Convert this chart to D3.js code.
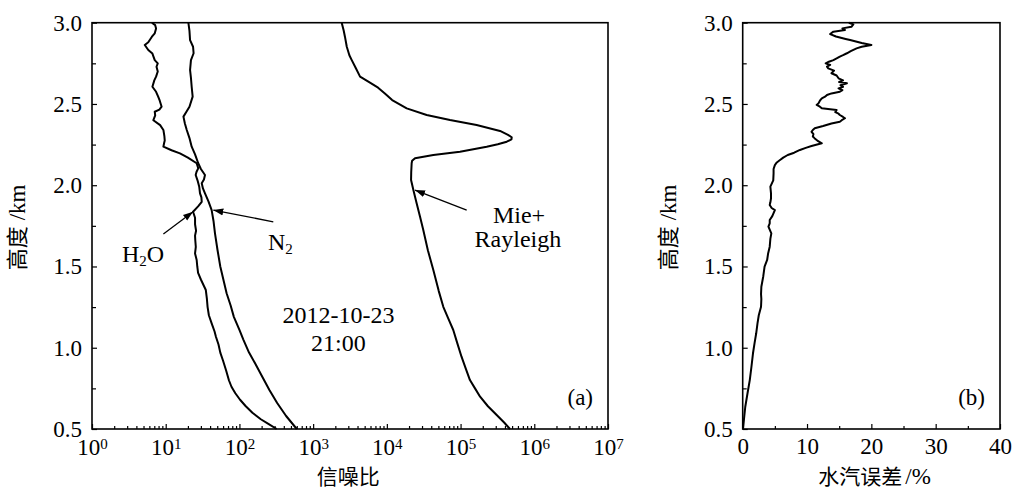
<!DOCTYPE html>
<html>
<head>
<meta charset="utf-8">
<script src="https://cdn.jsdelivr.net/npm/d3@7"></script>
<style>
  body { margin: 0; background: #fff; }
  svg { display: block; }
</style>
</head>
<body>
<div class="chart"></div>
<script>
const width = 1014;
const height = 490;

// panel (a): signal-to-noise ratio profiles (altitude km, SNR)
const h2oAlt = [3.00, 2.985, 2.965, 2.935, 2.914, 2.88, 2.863, 2.832, 2.81, 2.77, 2.75, 2.729, 2.70, 2.668, 2.645, 2.606, 2.575, 2.545, 2.52, 2.483, 2.465, 2.452, 2.43, 2.40, 2.37, 2.34, 2.30, 2.275, 2.258, 2.237, 2.215, 2.196, 2.17, 2.135, 2.104, 2.083, 2.063, 2.03, 1.99, 1.95, 1.925, 1.898, 1.87, 1.837, 1.80, 1.76, 1.72, 1.69, 1.66, 1.62, 1.58, 1.54, 1.50, 1.46, 1.42, 1.38, 1.355, 1.30, 1.25, 1.20, 1.15, 1.10, 1.068, 1.02, 0.97, 0.92, 0.86, 0.80, 0.76, 0.72, 0.68, 0.64, 0.60, 0.56, 0.53, 0.50];
const h2oSnr = [6.5, 7.2, 7.4, 7.1, 6.5, 5.8, 5.2, 5.8, 6.6, 7.1, 7.8, 7.5, 7.8, 7.4, 7.0, 6.6, 7.4, 7.9, 8.3, 8.8, 8.2, 7.1, 7.2, 6.8, 8.4, 9.3, 9.6, 9.7, 9.5, 9.3, 12.0, 15.6, 20.0, 26.3, 27.6, 26.2, 25.5, 27.0, 28.5, 29.2, 30.5, 30.8, 27.5, 23.5, 25.0, 25.0, 25.8, 25.0, 25.2, 25.6, 25.0, 26.3, 26.8, 27.5, 30.0, 33.0, 35.0, 36.2, 37.0, 38.5, 42.0, 46.0, 48.0, 52.0, 55.0, 60.0, 66.0, 72.0, 78.0, 88.0, 102, 122, 150, 195, 250, 320];

const n2Alt = [3.00, 2.95, 2.893, 2.852, 2.812, 2.77, 2.709, 2.66, 2.606, 2.545, 2.483, 2.45, 2.422, 2.38, 2.34, 2.29, 2.237, 2.19, 2.135, 2.10, 2.063, 2.035, 2.012, 1.98, 1.95, 1.90, 1.847, 1.78, 1.704, 1.60, 1.50, 1.40, 1.335, 1.26, 1.19, 1.11, 1.05, 0.97, 0.90, 0.82, 0.74, 0.66, 0.58, 0.50];
const n2Snr = [20.3, 21.0, 21.4, 23.5, 23.9, 22.0, 21.4, 22.0, 22.5, 23.2, 21.0, 19.0, 17.4, 18.2, 19.3, 21.0, 22.5, 25.0, 27.6, 30.0, 34.1, 33.0, 30.8, 32.0, 34.1, 38.0, 42.0, 44.5, 46.6, 50.5, 55.0, 62.0, 67.0, 76.0, 84.0, 100, 113, 135, 165, 205, 255, 325, 430, 600];

const mieAlt = [3.00, 2.95, 2.914, 2.852, 2.80, 2.77, 2.72, 2.668, 2.637, 2.60, 2.565, 2.524, 2.473, 2.432, 2.401, 2.37, 2.334, 2.31, 2.295, 2.282, 2.268, 2.252, 2.237, 2.206, 2.186, 2.166, 2.15, 2.135, 2.08, 2.032, 1.97, 1.90, 1.806, 1.724, 1.60, 1.478, 1.35, 1.252, 1.18, 1.109, 1.03, 0.945, 0.87, 0.801, 0.75, 0.699, 0.64, 0.586, 0.54, 0.50];
const mieSnr = [2440, 2600, 2700, 2860, 3100, 3340, 3800, 4330, 5610, 7600, 9400, 11800, 18600, 34700, 71900, 165000, 343000, 440000, 494000, 490000, 423000, 320000, 226000, 98300, 42700, 24100, 22000, 21700, 21400, 21300, 22900, 25000, 28200, 31200, 36000, 42700, 50500, 58300, 68000, 79600, 90000, 103000, 118000, 134000, 157000, 184000, 235000, 309000, 390000, 468000];

// panel (b): water vapour retrieval error (altitude km, %)
const errAlt = [3.00, 2.99, 2.975, 2.965, 2.955, 2.945, 2.93, 2.915, 2.90, 2.893, 2.875, 2.863, 2.852, 2.842, 2.825, 2.812, 2.80, 2.791, 2.78, 2.77, 2.76, 2.75, 2.74, 2.73, 2.719, 2.705, 2.689, 2.675, 2.658, 2.645, 2.635, 2.627, 2.615, 2.605, 2.596, 2.585, 2.575, 2.565, 2.555, 2.545, 2.535, 2.52, 2.505, 2.494, 2.483, 2.473, 2.467, 2.463, 2.45, 2.44, 2.432, 2.42, 2.412, 2.40, 2.391, 2.38, 2.364, 2.35, 2.34, 2.329, 2.315, 2.30, 2.288, 2.275, 2.258, 2.241, 2.23, 2.217, 2.20, 2.186, 2.17, 2.155, 2.14, 2.124, 2.10, 2.073, 2.03, 1.991, 1.95, 1.92, 1.895, 1.878, 1.86, 1.847, 1.81, 1.786, 1.765, 1.745, 1.704, 1.67, 1.622, 1.58, 1.54, 1.499, 1.44, 1.375, 1.33, 1.30, 1.252, 1.20, 1.15, 1.089, 1.03, 0.966, 0.88, 0.801, 0.72, 0.637, 0.56, 0.50];
const errPct = [16.5, 17.2, 16.9, 15.5, 15.9, 14.1, 13.6, 14.5, 16.0, 16.7, 18.5, 20.0, 18.5, 17.7, 16.8, 16.2, 15.6, 15.1, 14.6, 14.1, 13.4, 12.9, 13.6, 13.1, 13.3, 14.2, 13.8, 14.6, 14.9, 15.6, 15.0, 16.2, 15.2, 15.6, 14.9, 15.5, 15.1, 13.8, 13.1, 12.8, 12.3, 12.0, 11.8, 11.5, 12.0, 12.3, 13.6, 14.6, 14.4, 14.9, 15.1, 15.6, 15.9, 15.4, 15.1, 13.8, 12.5, 11.2, 10.9, 10.7, 11.0, 10.9, 11.2, 11.6, 12.3, 10.7, 9.8, 8.9, 8.0, 7.0, 6.3, 5.8, 5.3, 5.0, 4.8, 4.8, 4.75, 4.3, 4.4, 4.4, 4.3, 4.2, 4.5, 5.0, 4.6, 4.2, 4.2, 4.0, 4.45, 4.3, 4.2, 3.95, 3.8, 3.4, 3.2, 2.9, 2.85, 2.9, 2.85, 2.5, 2.3, 2.1, 1.85, 1.6, 1.35, 1.1, 0.75, 0.4, 0.2, 0.05];

const yTicks = [0.5, 1.0, 1.5, 2.0, 2.5, 3.0];
const yMinor = [0.75, 1.25, 1.75, 2.25, 2.75];
const xLogTicks = [1, 10, 100, 1000, 1e4, 1e5, 1e6, 1e7];
const xErrTicks = [0, 10, 20, 30, 40];
const xErrMinor = [5, 15, 25, 35];

const serif = "'Liberation Serif', 'DejaVu Serif', serif";
const cjk = "'Noto Sans CJK SC', 'Noto Sans', sans-serif";

const svg = d3
    .select(".chart")
    .append("svg")
    .attr("width", width)
    .attr("height", height);

svg.append("defs")
    .append("marker")
    .attr("id", "arrow")
    .attr("viewBox", "0 0 10 10")
    .attr("refX", 10)
    .attr("refY", 5)
    .attr("markerWidth", 10)
    .attr("markerHeight", 10)
    .attr("markerUnits", "userSpaceOnUse")
    .attr("orient", "auto")
    .append("path")
    .attr("d", "M0,1.5 L10,5 L0,8.5 Z")
    .attr("fill", "black");

const xA = d3.scaleLog().domain([1, 1e7]).range([92, 608]);
const yA = d3.scaleLinear().domain([0.5, 3]).range([429, 22.7]);
const xB = d3.scaleLinear().domain([0, 40]).range([742.7, 1000]);

function styleAxis(g) {
    g.select(".domain").remove();
    g.attr("font-family", serif).attr("font-size", 23);
    g.selectAll("line").attr("stroke", "black").attr("stroke-width", 1.2);
    g.selectAll("text").attr("fill", "black");
}

function drawPanel(x, label, xLog) {
    const x0 = x.range()[0], x1 = x.range()[1];

    // y axis, ticks pointing inward
    svg.append("g")
        .attr("transform", `translate(${x0},0)`)
        .call(d3.axisLeft(yA).tickValues(yTicks).tickSize(-5).tickPadding(10).tickFormat(d3.format(".1f")))
        .call(styleAxis);
    svg.append("g")
        .attr("transform", `translate(${x0},0)`)
        .call(d3.axisLeft(yA).tickValues(yMinor).tickSize(-4).tickFormat(""))
        .call(styleAxis);

    // x axis
    const bottom = yA.range()[0];
    if (xLog) {
        const minor = [];
        xLogTicks.slice(0, -1).forEach((d) => {
            for (let k = 2; k <= 9; k++) minor.push(d * k);
        });
        svg.append("g")
            .attr("transform", `translate(0,${bottom})`)
            .call(d3.axisBottom(x).tickValues(minor).tickSize(-3).tickFormat(""))
            .call(styleAxis);
        const gx = svg.append("g")
            .attr("transform", `translate(0,${bottom})`)
            .call(d3.axisBottom(x).tickValues(xLogTicks).tickSize(-5).tickPadding(10).tickFormat(""))
            .call(styleAxis);
        gx.selectAll(".tick text").each(function (d) {
            const t = d3.select(this).attr("dy", "0.71em");
            t.append("tspan").text("10");
            t.append("tspan")
                .attr("dy", "-0.45em")
                .attr("font-size", 15)
                .text(Math.round(Math.log10(d)));
        });
    } else {
        svg.append("g")
            .attr("transform", `translate(0,${bottom})`)
            .call(d3.axisBottom(x).tickValues(xErrMinor).tickSize(-3).tickFormat(""))
            .call(styleAxis);
        svg.append("g")
            .attr("transform", `translate(0,${bottom})`)
            .call(d3.axisBottom(x).tickValues(xErrTicks).tickSize(-5).tickPadding(9))
            .call(styleAxis);
    }

    // frame
    svg.append("rect")
        .attr("x", x0)
        .attr("y", yA.range()[1])
        .attr("width", x1 - x0)
        .attr("height", bottom - yA.range()[1])
        .attr("fill", "none")
        .attr("stroke", "black")
        .attr("stroke-width", 1.6);

    // panel tag
    svg.append("text")
        .attr("x", x1 - 15)
        .attr("y", 405)
        .attr("text-anchor", "end")
        .attr("font-family", serif)
        .attr("font-size", 23)
        .text(label);

    // y title
    const yt = svg.append("text")
        .attr("transform", `translate(${x0 - 67},${yA(1.74)}) rotate(-90)`)
        .attr("text-anchor", "middle")
        .attr("font-size", 22);
    yt.append("tspan").attr("font-family", cjk).text("高度");
    yt.append("tspan").attr("font-family", serif).attr("font-size", 23).attr("dx", 6).text("/km");
}

drawPanel(xA, "(a)", true);
drawPanel(xB, "(b)", false);

// curves
const lineA = d3.line().x((d) => xA(d[1])).y((d) => yA(d[0]));
const lineB = d3.line().x((d) => xB(d[1])).y((d) => yA(d[0]));

[[h2oAlt, h2oSnr], [n2Alt, n2Snr], [mieAlt, mieSnr]].forEach(([alt, val]) => {
    svg.append("path")
        .datum(d3.zip(alt, val))
        .attr("d", lineA)
        .attr("fill", "none")
        .attr("stroke", "black")
        .attr("stroke-width", 2)
        .attr("stroke-linejoin", "round");
});

svg.append("path")
    .datum(d3.zip(errAlt, errPct))
    .attr("d", lineB)
    .attr("fill", "none")
    .attr("stroke", "black")
    .attr("stroke-width", 2)
    .attr("stroke-linejoin", "round");

// annotation arrows (tail -> tip, in data units)
const arrows = [
    [[9.3, 1.70], [23.5, 1.837]],
    [[288, 1.775], [44.2, 1.847]],
    [[121000, 1.847], [24100, 1.97]],
];
arrows.forEach(([from, to]) => {
    svg.append("line")
        .attr("x1", xA(from[0]))
        .attr("y1", yA(from[1]))
        .attr("x2", xA(to[0]))
        .attr("y2", yA(to[1]))
        .attr("stroke", "black")
        .attr("stroke-width", 1.3)
        .attr("marker-end", "url(#arrow)");
});

function note(x, y, anchor) {
    return svg.append("text")
        .attr("x", x)
        .attr("y", y)
        .attr("text-anchor", anchor)
        .attr("font-family", serif)
        .attr("font-size", 24);
}

const h2o = note(xA(2.55), yA(1.53), "start");
h2o.append("tspan").text("H");
h2o.append("tspan").attr("font-size", 15).attr("dy", 4).text("2");
h2o.append("tspan").attr("dy", -4).text("O");

const n2 = note(xA(244), yA(1.60), "start");
n2.append("tspan").text("N");
n2.append("tspan").attr("font-size", 15).attr("dy", 4).text("2");

note(xA(6.2e5), yA(1.768), "middle").text("Mie+");
note(xA(6.0e5), yA(1.62), "middle").text("Rayleigh");

note(xA(2200), yA(1.15), "middle").text("2012-10-23");
note(xA(2200), yA(0.98), "middle").text("21:00");

// x titles
svg.append("text")
    .attr("x", xA(3000))
    .attr("y", 484)
    .attr("text-anchor", "middle")
    .attr("font-family", cjk)
    .attr("font-size", 21)
    .text("信噪比");

const xt = svg.append("text")
    .attr("x", xB(20.5))
    .attr("y", 484)
    .attr("text-anchor", "middle")
    .attr("font-size", 21);
xt.append("tspan").attr("font-family", cjk).text("水汽误差");
xt.append("tspan").attr("font-family", serif).attr("font-size", 23).attr("dx", 3).text("/%");
</script>
</body>
</html>
